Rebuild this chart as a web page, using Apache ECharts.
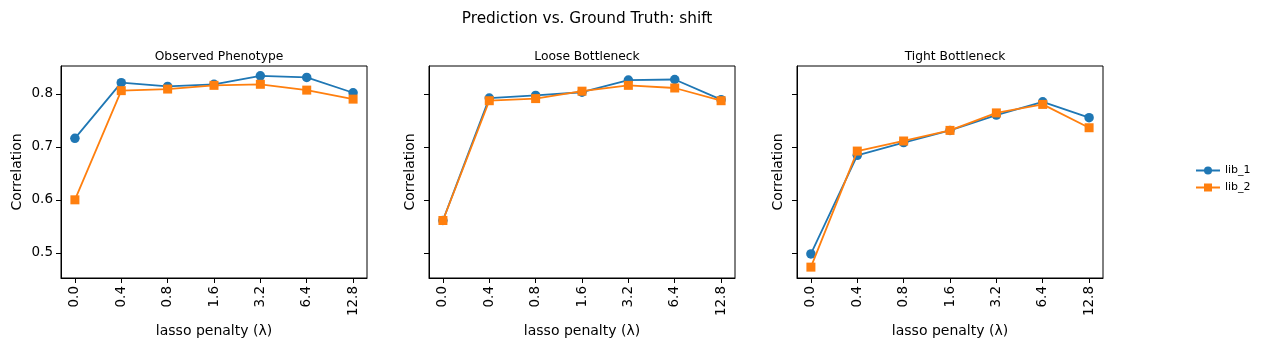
<!DOCTYPE html>
<html><head><meta charset="utf-8">
<script src="https://cdn.jsdelivr.net/npm/echarts@6/dist/echarts.min.js"></script>
<style>html,body{margin:0;padding:0;background:#fff}#c{width:1267px;height:348px}</style>
</head><body><div id="c"></div>
<script>
const categories = ['0.0','0.4','0.8','1.6','3.2','6.4','12.8'];
const panelTitles = ['Observed Phenotype','Loose Bottleneck','Tight Bottleneck'];
const yTicks = [0.5,0.6,0.7,0.8];
const seriesNames = ['lib_1','lib_2'];
const observed_lib1 = [0.716,0.821,0.814,0.818,0.834,0.831,0.802];
const observed_lib2 = [0.600,0.806,0.809,0.816,0.818,0.807,0.790];
const loose_lib1 = [0.561,0.792,0.797,0.803,0.826,0.827,0.789];
const loose_lib2 = [0.561,0.787,0.791,0.805,0.816,0.811,0.787];
const tight_lib1 = [0.498,0.684,0.708,0.731,0.760,0.785,0.755];
const tight_lib2 = [0.473,0.692,0.711,0.731,0.764,0.780,0.736];

const panels = [[observed_lib1,observed_lib2],[loose_lib1,loose_lib2],[tight_lib1,tight_lib2]];
const colors = ['#1f77b4','#ff7f0e'];
const symbols = ['circle','rect'];
const lefts = [61,429,797];
const font = 'DejaVu Sans';
const xIdx = categories.map((c,i)=>i);

const option = {
  animation:false,
  textStyle:{fontFamily:font},
  title:[{text:'Prediction vs. Ground Truth: shift',left:582,top:7,textAlign:'center',textStyle:{fontFamily:font,fontSize:15.3,fontWeight:'normal',color:'#000'}}]
    .concat(panelTitles.map((t,i)=>({text:t,left:lefts[i]+153,top:46,textAlign:'center',textStyle:{fontFamily:font,fontSize:12.3,fontWeight:'normal',color:'#000'}}))),
  legend:{data:seriesNames,orient:'vertical',left:1190,top:160,itemWidth:24,itemHeight:10,itemGap:6,
    textStyle:{fontFamily:font,fontSize:11,color:'#000'}},
  grid:lefts.map(l=>({left:l,top:66,width:306,height:212,show:true,borderColor:'#000',borderWidth:1,containLabel:false})),
  xAxis:lefts.map((l,i)=>({type:'value',gridIndex:i,min:-0.3,max:6.3,
    name:'lasso penalty (λ)',nameLocation:'middle',nameGap:44,nameTextStyle:{fontFamily:font,fontSize:14,color:'#000'},
    axisLine:{onZero:false,lineStyle:{color:'#000'}},splitLine:{show:false},
    axisTick:{customValues:xIdx,length:5,lineStyle:{color:'#000'}},
    axisLabel:{customValues:xIdx,rotate:90,margin:8,fontFamily:font,fontSize:13.5,color:'#000',formatter:v=>categories[Math.round(v)]}})),
  yAxis:lefts.map((l,i)=>({type:'value',gridIndex:i,min:0.4525,max:0.8525,
    name:'Correlation',nameLocation:'middle',nameGap:i===0?37:12,nameTextStyle:{fontFamily:font,fontSize:14,color:'#000'},
    axisLine:{show:true,onZero:false,lineStyle:{color:'#000'}},splitLine:{show:false},
    axisTick:{customValues:yTicks,length:5,lineStyle:{color:'#000'}},
    axisLabel:{show:i===0,customValues:yTicks,margin:8,fontFamily:font,fontSize:13.5,color:'#000',formatter:v=>v.toFixed(1)}})),
  series:[]
};
panels.forEach((p,i)=>{
  p.forEach((vals,j)=>{
    option.series.push({name:seriesNames[j],type:'line',xAxisIndex:i,yAxisIndex:i,
      data:vals.map((v,k)=>[xIdx[k],v]),symbol:symbols[j],symbolSize:j===0?9.5:9,
      lineStyle:{color:colors[j],width:1.8},itemStyle:{color:colors[j]},z:2+j});
  });
});
echarts.init(document.getElementById('c')).setOption(option);
</script></body></html>
